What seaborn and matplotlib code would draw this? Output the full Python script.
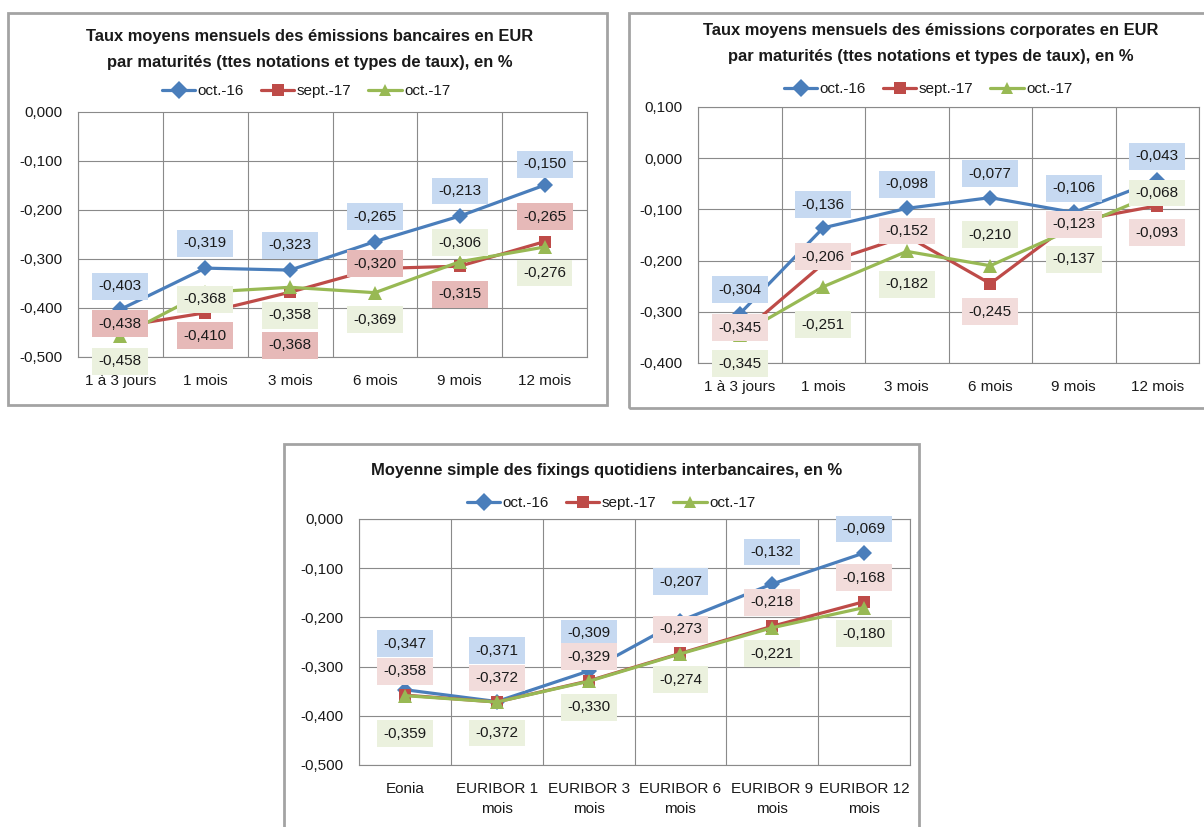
import numpy as np
import pandas as pd
import matplotlib
matplotlib.use("Agg")
import matplotlib.pyplot as plt
from matplotlib import font_manager
from matplotlib.patches import Rectangle
from matplotlib.ticker import FuncFormatter, MultipleLocator, FixedLocator
import seaborn as sns

# ---- data ----
series = ["oct.-16", "sept.-17", "oct.-17"]

bank_cats = ["1 à 3 jours", "1 mois", "3 mois", "6 mois", "9 mois", "12 mois"]
bank_oct16 = [-0.403, -0.319, -0.323, -0.265, -0.213, -0.150]
bank_sep17 = [-0.438, -0.410, -0.368, -0.320, -0.315, -0.265]
bank_oct17 = [-0.458, -0.368, -0.358, -0.369, -0.306, -0.276]

corp_cats = ["1 à 3 jours", "1 mois", "3 mois", "6 mois", "9 mois", "12 mois"]
corp_oct16 = [-0.304, -0.136, -0.098, -0.077, -0.106, -0.043]
corp_sep17 = [-0.345, -0.206, -0.152, -0.245, -0.123, -0.093]
corp_oct17 = [-0.345, -0.251, -0.182, -0.210, -0.137, -0.068]

ibor_cats = ["Eonia", "EURIBOR 1\nmois", "EURIBOR 3\nmois", "EURIBOR 6\nmois",
             "EURIBOR 9\nmois", "EURIBOR 12\nmois"]
ibor_oct16 = [-0.347, -0.371, -0.309, -0.207, -0.132, -0.069]
ibor_sep17 = [-0.358, -0.372, -0.329, -0.273, -0.218, -0.168]
ibor_oct17 = [-0.359, -0.372, -0.330, -0.274, -0.221, -0.180]

# label placement, pixels below (+) or above (-) the point
bank_dy = [[-23, -25, -25, -25, -25, -21], [-3, 23, 53, -5, 28, -25], [25, 7, 28, 27, -19, 26]]
corp_dy = [[-24, -23, -24, -24, -24, -24], [-7, -7, -5, 28, 3, 27], [29, 38, 33, -31, 31, 0]]
ibor_dy = [[-46, -51, -38, -39, -32, -24], [-24] * 6, [38, 31, 26, 26, 26, 26]]

colors = {"oct.-16": "#4A7EBB", "sept.-17": "#BE4B48", "oct.-17": "#98B954"}
markers = {"oct.-16": "D", "sept.-17": "s", "oct.-17": "^"}
msize = {"oct.-16": 8, "sept.-17": 8.5, "oct.-17": 9.5}

W, H = 1204, 827
installed = {f.name for f in font_manager.fontManager.ttflist}
narrow = "Liberation Sans Narrow" in installed

sns.set_style("white")
plt.rcParams["font.family"] = ["Liberation Sans", "DejaVu Sans"]
plt.rcParams["text.color"] = "#1a1a1a"
plt.rcParams["xtick.color"] = "#1a1a1a"
plt.rcParams["ytick.color"] = "#1a1a1a"

fig = plt.figure(figsize=(W / 100, H / 100), dpi=100)
fig.patch.set_facecolor("white")


def fmt(v):
    if abs(v) < 1e-9:
        v = 0.0
    return f"{v:.3f}".replace(".", ",")


def frame(x0, y0, x1, y1):
    fig.add_artist(Rectangle((x0 / W, 1 - y1 / H), (x1 - x0) / W, (y1 - y0) / H,
                             transform=fig.transFigure, fill=False,
                             ec="#a3a3a3", lw=2, zorder=0))


def title(lines, cx, ys):
    for txt, y in zip(lines, ys):
        if narrow:
            fig.text(cx / W, 1 - y / H, txt, ha="center", va="center", fontsize=13.3,
                     fontweight="bold", family=["Liberation Sans Narrow", "DejaVu Sans"])
        else:
            fig.text(cx / W, 1 - y / H, txt, ha="center", va="center", fontsize=11.9,
                     fontweight="bold")


def panel(box, cats, vals, dys, ylo, yhi, bgs, leg):
    l, t, r, b = box
    ax = fig.add_axes([l / W, 1 - b / H, (r - l) / W, (b - t) / H])
    n = len(cats)
    df = pd.DataFrame({
        "pos": list(range(n)) * 3,
        "val": vals[0] + vals[1] + vals[2],
        "serie": np.repeat(series, n),
    })
    sns.lineplot(data=df, x="pos", y="val", hue="serie", style="serie",
                 hue_order=series, style_order=series, palette=colors,
                 markers=markers, dashes=False, errorbar=None, linewidth=2.3,
                 markersize=9, markeredgewidth=0, ax=ax, zorder=3)
    for line, s in zip(ax.lines, series):
        line.set_markersize(msize[s])

    for k, s in enumerate(series):
        for i, v in enumerate(vals[k]):
            ax.annotate(fmt(v), (i, v), xytext=(0, -dys[k][i]), textcoords="offset pixels",
                        ha="center", va="center", fontsize=11, zorder=6,
                        annotation_clip=False,
                        bbox=dict(boxstyle="square,pad=0.42", fc=bgs[k], ec="none"))

    ax.set_xlim(-0.5, n - 0.5)
    ax.set_ylim(ylo, yhi)
    ax.set_xticks(range(n))
    ax.set_xticklabels(cats, linespacing=1.55)
    ax.xaxis.set_minor_locator(FixedLocator(np.arange(-0.5, n, 1.0)))
    ax.yaxis.set_major_locator(MultipleLocator(0.1))
    ax.yaxis.set_major_formatter(FuncFormatter(lambda v, p: fmt(v)))
    ax.set_axisbelow(True)
    ax.grid(axis="y", which="major", color="#8a8a8a", lw=0.8)
    ax.grid(axis="x", which="minor", color="#8a8a8a", lw=0.8)
    ax.grid(axis="x", which="major", visible=False)
    ax.tick_params(axis="x", which="major", length=0, pad=12, labelsize=11)
    ax.tick_params(axis="x", which="minor", length=4, color="#8a8a8a", direction="out")
    ax.tick_params(axis="y", length=4, color="#8a8a8a", direction="out", pad=7, labelsize=11)
    for sp in ax.spines.values():
        sp.set_color("#8a8a8a")
        sp.set_linewidth(0.8)
    ax.set_xlabel("")
    ax.set_ylabel("")

    sns.move_legend(ax, "center", bbox_to_anchor=(leg[0] / W, 1 - leg[1] / H),
                    bbox_transform=fig.transFigure, ncol=3, frameon=False, title=None,
                    handlelength=2.2, handletextpad=0.15, columnspacing=1.1, fontsize=11)
    return ax


# chart 1 : bank issues
frame(8, 13, 607, 405)
title(["Taux moyens mensuels des émissions bancaires en EUR",
       "par maturités (ttes notations et types de taux), en %"], 310, [37, 62])
panel((78, 111.5, 587, 357), bank_cats, [bank_oct16, bank_sep17, bank_oct17], bank_dy,
      -0.5, 0.0, ["#C6D9F1", "#E6B9B8", "#EBF1DE"], (306, 91))

# chart 2 : corporate issues
frame(629, 13, 1216, 408)
title(["Taux moyens mensuels des émissions corporates en EUR",
       "par maturités (ttes notations et types de taux), en %"], 931, [31, 57])
panel((698, 107, 1199, 363), corp_cats, [corp_oct16, corp_sep17, corp_oct17], corp_dy,
      -0.4, 0.1, ["#C6D9F1", "#F2DCDB", "#EBF1DE"], (928, 89))

# chart 3 : interbank fixings
frame(284, 444, 919, 840)
title(["Moyenne simple des fixings quotidiens interbancaires, en %"], 607, [471])
panel((359, 519, 910, 765), ibor_cats, [ibor_oct16, ibor_sep17, ibor_oct17], ibor_dy,
      -0.5, 0.0, ["#C6D9F1", "#F2DCDB", "#EBF1DE"], (611, 503))

fig.savefig("out.png", dpi=100)
